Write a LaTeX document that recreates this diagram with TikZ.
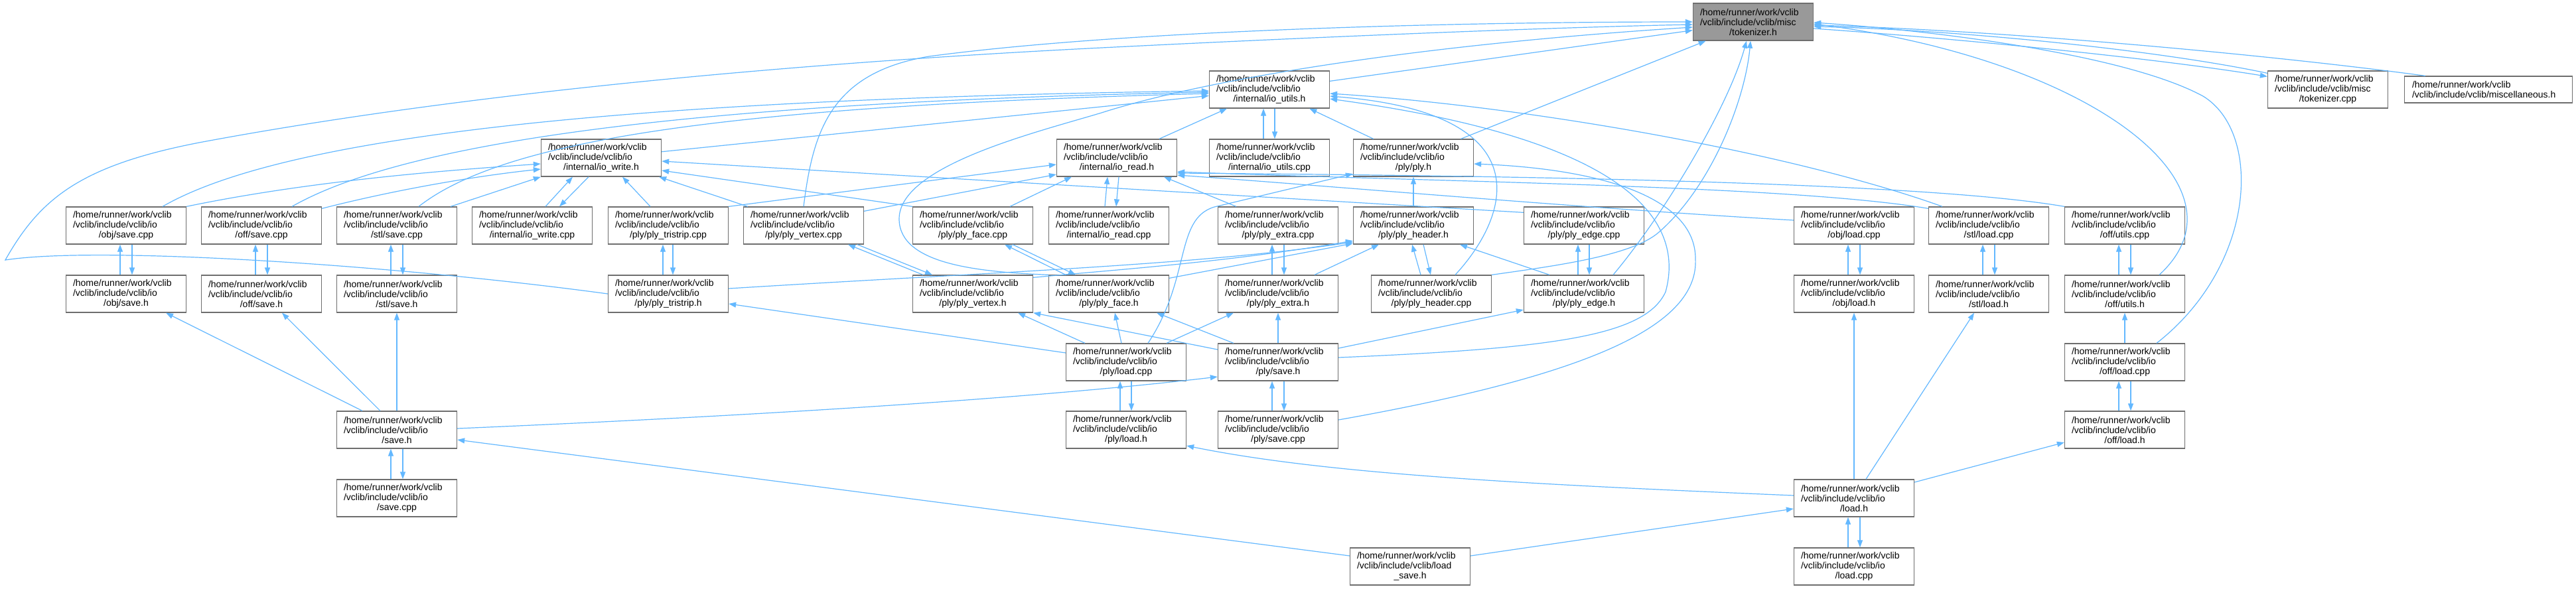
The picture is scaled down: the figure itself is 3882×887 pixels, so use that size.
\documentclass[tikz,border=0pt]{standalone}
\usepackage{fontspec}
\setmainfont{Liberation Sans}
\usetikzlibrary{arrows.meta}
\definecolor{edgeblue}{RGB}{99,184,255}
\definecolor{boxgray}{RGB}{110,110,110}
\definecolor{focusgray}{RGB}{153,153,153}
\newcommand{\incpath}[2]{\makebox[160pt][l]{/home/runner/work/vclib}\\\makebox[160pt][l]{#1}\\#2}

\begin{document}
\begin{tikzpicture}[x=1pt, y=-1pt]
  \tikzset{
    file/.style={draw=boxgray, line width=1.3pt, fill=white, minimum width=181pt, minimum height=56pt,
      inner sep=0pt, align=center, font=\fontsize{14}{15}\selectfont},
    inc/.style={draw=edgeblue, line width=1.2pt, -{Triangle[length=11pt,width=8pt]}}
  }
  \fill[white] (0,0) rectangle (3882,887);
  \useasboundingbox (0,0) rectangle (3882,887);

  % files
  \node[file, fill=focusgray] (tokh) at (2642,33) {\incpath{/vclib/include/vclib/misc}{/tokenizer.h}};
  \node[file] (ioutilsh)   at (1913,135) {\incpath{/vclib/include/vclib/io}{/internal/io\_utils.h}};
  \node[file] (tokcpp)     at (3508,135) {\incpath{/vclib/include/vclib/misc}{/tokenizer.cpp}};
  \node[file, minimum width=253pt, minimum height=40pt] (misch) at (3750,135)
    {\makebox[230pt][l]{/home/runner/work/vclib}\\\makebox[230pt][l]{/vclib/include/vclib/miscellaneous.h}};

  \node[file] (iowriteh)   at (906,238)  {\incpath{/vclib/include/vclib/io}{/internal/io\_write.h}};
  \node[file] (ioreadh)    at (1683,238) {\incpath{/vclib/include/vclib/io}{/internal/io\_read.h}};
  \node[file] (ioutilscpp) at (1913,238) {\incpath{/vclib/include/vclib/io}{/internal/io\_utils.cpp}};
  \node[file] (plyh)       at (2130,238) {\incpath{/vclib/include/vclib/io}{/ply/ply.h}};

  \node[file] (objsavecpp)  at (190,340)  {\incpath{/vclib/include/vclib/io}{/obj/save.cpp}};
  \node[file] (offsavecpp)  at (394,340)  {\incpath{/vclib/include/vclib/io}{/off/save.cpp}};
  \node[file] (stlsavecpp)  at (598,340)  {\incpath{/vclib/include/vclib/io}{/stl/save.cpp}};
  \node[file] (iowritecpp)  at (802,340)  {\incpath{/vclib/include/vclib/io}{/internal/io\_write.cpp}};
  \node[file] (tristripcpp) at (1007,340) {\incpath{/vclib/include/vclib/io}{/ply/ply\_tristrip.cpp}};
  \node[file] (vertexcpp)   at (1211,340) {\incpath{/vclib/include/vclib/io}{/ply/ply\_vertex.cpp}};
  \node[file] (facecpp)     at (1466,340) {\incpath{/vclib/include/vclib/io}{/ply/ply\_face.cpp}};
  \node[file] (ioreadcpp)   at (1671,340) {\incpath{/vclib/include/vclib/io}{/internal/io\_read.cpp}};
  \node[file] (extracpp)    at (1926,340) {\incpath{/vclib/include/vclib/io}{/ply/ply\_extra.cpp}};
  \node[file] (headerh)     at (2130,340) {\incpath{/vclib/include/vclib/io}{/ply/ply\_header.h}};
  \node[file] (edgecpp)     at (2387,340) {\incpath{/vclib/include/vclib/io}{/ply/ply\_edge.cpp}};
  \node[file] (objloadcpp)  at (2794,340) {\incpath{/vclib/include/vclib/io}{/obj/load.cpp}};
  \node[file] (stlloadcpp)  at (2997,340) {\incpath{/vclib/include/vclib/io}{/stl/load.cpp}};
  \node[file] (offutilscpp) at (3202,340) {\incpath{/vclib/include/vclib/io}{/off/utils.cpp}};

  \node[file] (objsaveh)  at (190,443)  {\incpath{/vclib/include/vclib/io}{/obj/save.h}};
  \node[file] (offsaveh)  at (394,443)  {\incpath{/vclib/include/vclib/io}{/off/save.h}};
  \node[file] (stlsaveh)  at (598,443)  {\incpath{/vclib/include/vclib/io}{/stl/save.h}};
  \node[file] (tristriph) at (1007,443) {\incpath{/vclib/include/vclib/io}{/ply/ply\_tristrip.h}};
  \node[file] (vertexh)   at (1466,443) {\incpath{/vclib/include/vclib/io}{/ply/ply\_vertex.h}};
  \node[file] (faceh)     at (1671,443) {\incpath{/vclib/include/vclib/io}{/ply/ply\_face.h}};
  \node[file] (extrah)    at (1926,443) {\incpath{/vclib/include/vclib/io}{/ply/ply\_extra.h}};
  \node[file] (headercpp) at (2157,443) {\incpath{/vclib/include/vclib/io}{/ply/ply\_header.cpp}};
  \node[file] (edgeh)     at (2387,443) {\incpath{/vclib/include/vclib/io}{/ply/ply\_edge.h}};
  \node[file] (objloadh)  at (2794,443) {\incpath{/vclib/include/vclib/io}{/obj/load.h}};
  \node[file] (stlloadh)  at (2997,443) {\incpath{/vclib/include/vclib/io}{/stl/load.h}};
  \node[file] (offutilsh) at (3202,443) {\incpath{/vclib/include/vclib/io}{/off/utils.h}};

  \node[file] (plyloadcpp) at (1697,546) {\incpath{/vclib/include/vclib/io}{/ply/load.cpp}};
  \node[file] (plysaveh)   at (1926,546) {\incpath{/vclib/include/vclib/io}{/ply/save.h}};
  \node[file] (offloadcpp) at (3202,546) {\incpath{/vclib/include/vclib/io}{/off/load.cpp}};

  \node[file] (saveh)      at (598,648)  {\incpath{/vclib/include/vclib/io}{/save.h}};
  \node[file] (plyloadh)   at (1697,648) {\incpath{/vclib/include/vclib/io}{/ply/load.h}};
  \node[file] (plysavecpp) at (1926,648) {\incpath{/vclib/include/vclib/io}{/ply/save.cpp}};
  \node[file] (offloadh)   at (3202,648) {\incpath{/vclib/include/vclib/io}{/off/load.h}};

  \node[file] (savecpp)   at (598,751)  {\incpath{/vclib/include/vclib/io}{/save.cpp}};
  \node[file] (loadh)     at (2794,751) {\incpath{/vclib/include/vclib/io}{/load.h}};
  \node[file] (loadsaveh) at (2125,854) {\incpath{/vclib/include/vclib/load}{\_save.h}};
  \node[file] (loadcpp)   at (2794,854) {\incpath{/vclib/include/vclib/io}{/load.cpp}};

  % includes of tokenizer.h
  \draw[inc] (ioutilsh) -- (tokh);
  \draw[inc] (plyh) -- (tokh);
  \draw[inc] ([xshift=32pt]misch.north west) .. controls (3400,80) and (3000,45) .. ([yshift=-5pt]tokh.east);
  \draw[inc] ([yshift=-4pt]tokcpp.north west) .. controls (3250,75) and (2950,45) .. ([yshift=-7pt]tokh.east);
  \draw[inc] ([yshift=-10pt]tokh.east) .. controls (2950,58) and (3250,88) .. ([yshift=-9pt]tokcpp.north west);
  \draw[inc] (tristriph.west) .. controls (600,400) and (150,370) .. (8,392) .. controls (60,300) and (120,250) .. (300,215)
    .. controls (700,140) and (1200,95) .. (1660,72) .. controls (2100,50) and (2400,40) .. ([yshift=-4pt]tokh.west);
  \draw[inc] (vertexcpp.north) .. controls (1225,200) and (1250,110) .. (1400,85) .. controls (1700,45) and (2200,33) .. (tokh.west);
  \draw[inc] (faceh.north west) .. controls (1480,410) and (1355,400) .. (1355,330) .. controls (1355,250) and (1560,200) .. (1660,170)
    .. controls (1800,125) and (2100,70) .. ([yshift=-8pt]tokh.west);
  \draw[inc] ([xshift=44pt]edgeh.north) .. controls (2510,320) and (2605,160) .. ([xshift=-10pt]tokh.south);
  \draw[inc] (headercpp.north east) .. controls (2350,400) and (2460,385) .. (2500,350) .. controls (2580,280) and (2630,150) .. ([xshift=-4pt]tokh.south);
  \draw[inc] ([xshift=52pt]offutilsh.north) .. controls (3400,280) and (3150,90) .. ([yshift=-3pt]tokh.east);
  \draw[inc] ([xshift=48pt]offloadcpp.north) .. controls (3400,400) and (3410,200) .. (3320,145) .. controls (3200,80) and (2900,45) .. ([yshift=-1pt]tokh.east);

  % includes of io_utils.h
  \draw[inc] ([xshift=55pt]objsavecpp.north) .. controls (420,210) and (900,150) .. ([yshift=-2pt]ioutilsh.west);
  \draw[inc] ([xshift=46pt]offsavecpp.north) .. controls (600,220) and (1000,155) .. ([yshift=-4pt]ioutilsh.west);
  \draw[inc] ([xshift=33pt]stlsavecpp.north) .. controls (760,210) and (1100,160) .. ([yshift=-6pt]ioutilsh.west);
  \draw[inc] (iowriteh) -- (ioutilsh);
  \draw[inc] (ioreadh) -- (ioutilsh);
  \draw[inc] (plyh) -- (ioutilsh);
  \draw[inc] ([xshift=-9pt]ioutilscpp.north) -- ([xshift=-9pt]ioutilsh.south);
  \draw[inc] ([xshift=8pt]ioutilsh.south) -- ([xshift=8pt]ioutilscpp.north);
  \draw[inc] ([xshift=36pt]headercpp.north) .. controls (2280,320) and (2320,170) .. ([yshift=-10pt]ioutilsh.east);
  \draw[inc] ([xshift=-70pt]stlloadcpp.north) .. controls (2700,230) and (2300,160) .. ([yshift=-6pt]ioutilsh.east);
  \draw[inc] ([yshift=7pt]plysaveh.east) .. controls (2350,525) and (2480,505) .. (2510,440) .. controls (2540,330) and (2450,210) .. ([yshift=-14pt]ioutilsh.east);
  \draw[inc] ([yshift=15pt]plysavecpp.east) .. controls (2400,565) and (2560,490) .. (2555,390) .. controls (2555,300) and (2420,255) .. ([yshift=-9pt]plyh.east);

  % includes of io_write.h
  \draw[inc] (objsavecpp.north east) .. controls (480,270) and (700,255) .. ([yshift=-9pt]iowriteh.west);
  \draw[inc] ([yshift=-3pt]offsavecpp.north east) .. controls (600,285) and (720,265) .. ([yshift=-17pt]iowriteh.west);
  \draw[inc] ([xshift=-10pt]stlsavecpp.north east) -- (iowriteh.south west);
  \draw[inc] ([xshift=20pt]iowritecpp.north) -- ([xshift=-43pt]iowriteh.south);
  \draw[inc] ([xshift=-19pt]iowriteh.south) -- ([xshift=41pt]iowritecpp.north);
  \draw[inc] ([xshift=-27pt]tristripcpp.north) -- ([xshift=32pt]iowriteh.south);
  \draw[inc] ([xshift=7pt]vertexcpp.north west) -- ([xshift=-4pt]iowriteh.south east);
  \draw[inc] (facecpp.north west) -- ([yshift=-19pt]iowriteh.east);
  \draw[inc] ([yshift=-9pt]edgecpp.north west) -- ([yshift=-5pt]iowriteh.east);

  % includes of io_read.h
  \draw[inc] (tristripcpp.north east) -- ([yshift=-10pt]ioreadh.west);
  \draw[inc] ([yshift=-7pt]vertexcpp.north east) -- ([yshift=-25pt]ioreadh.west);
  \draw[inc] ([xshift=56pt]facecpp.north) -- ([xshift=-68pt]ioreadh.south);
  \draw[inc] ([xshift=-6pt]ioreadcpp.north) -- ([xshift=-14pt]ioreadh.south);
  \draw[inc] ([xshift=3pt]ioreadh.south) -- ([xshift=11pt]ioreadcpp.north);
  \draw[inc] ([xshift=-63pt]extracpp.north) -- ([xshift=71pt]ioreadh.south);
  \draw[inc] ([yshift=8pt]objloadcpp.west) .. controls (2400,315) and (2000,280) .. ([yshift=-26pt]ioreadh.east);
  \draw[inc] ([yshift=-3pt]stlloadcpp.north west) .. controls (2700,280) and (2200,275) .. ([yshift=-21pt]ioreadh.east);
  \draw[inc] (offutilscpp.north west) .. controls (2900,275) and (2300,265) .. ([yshift=-23pt]ioreadh.east);

  % includes of ply.h and ply_header.h
  \draw[inc] (headerh) -- (plyh);
  \draw[inc] ([xshift=33pt]plyloadcpp.north) .. controls (1795,420) and (1770,330) .. (1830,312) -- ([yshift=-24pt]plyh.west);
  \draw[inc] ([yshift=8pt]tristriph.east) .. controls (1500,410) and (1800,400) .. ([yshift=-25pt]headerh.west);
  \draw[inc] ([yshift=-4pt]vertexh.north east) .. controls (1700,405) and (1850,395) .. ([yshift=-23pt]headerh.west);
  \draw[inc] ([yshift=-5pt]faceh.north east) -- ([yshift=-27pt]headerh.west);
  \draw[inc] ([xshift=55pt]extrah.north) -- ([xshift=-52pt]headerh.south);
  \draw[inc] ([xshift=-16pt]headercpp.north) -- ([xshift=-2pt]headerh.south);
  \draw[inc] ([xshift=15pt]headerh.south) -- ([xshift=-1pt]headercpp.north);
  \draw[inc] ([xshift=-52pt]edgeh.north) -- ([xshift=70pt]headerh.south);

  % header and source pairs
  \draw[inc] ([xshift=-9pt]objsaveh.north) -- ([xshift=-9pt]objsavecpp.south);
  \draw[inc] ([xshift=9pt]objsavecpp.south) -- ([xshift=9pt]objsaveh.north);
  \draw[inc] ([xshift=-9pt]offsaveh.north) -- ([xshift=-9pt]offsavecpp.south);
  \draw[inc] ([xshift=9pt]offsavecpp.south) -- ([xshift=9pt]offsaveh.north);
  \draw[inc] ([xshift=-9pt]stlsaveh.north) -- ([xshift=-9pt]stlsavecpp.south);
  \draw[inc] ([xshift=9pt]stlsavecpp.south) -- ([xshift=9pt]stlsaveh.north);
  \draw[inc] ([xshift=-8pt]tristriph.north) -- ([xshift=-8pt]tristripcpp.south);
  \draw[inc] ([xshift=7pt]tristripcpp.south) -- ([xshift=7pt]tristriph.north);
  \draw[inc] ([xshift=-75pt]vertexh.north) -- ([xshift=67pt]vertexcpp.south);
  \draw[inc] ([xshift=81pt]vertexcpp.south) -- ([xshift=-61pt]vertexh.north);
  \draw[inc] ([xshift=-65pt]faceh.north) -- ([xshift=48pt]facecpp.south);
  \draw[inc] ([xshift=60pt]facecpp.south) -- ([xshift=-50pt]faceh.north);
  \draw[inc] ([xshift=-9pt]extrah.north) -- ([xshift=-9pt]extracpp.south);
  \draw[inc] ([xshift=9pt]extracpp.south) -- ([xshift=9pt]extrah.north);
  \draw[inc] ([xshift=-9pt]edgeh.north) -- ([xshift=-9pt]edgecpp.south);
  \draw[inc] ([xshift=8pt]edgecpp.south) -- ([xshift=8pt]edgeh.north);
  \draw[inc] ([xshift=-9pt]objloadh.north) -- ([xshift=-9pt]objloadcpp.south);
  \draw[inc] ([xshift=9pt]objloadcpp.south) -- ([xshift=9pt]objloadh.north);
  \draw[inc] ([xshift=-9pt]stlloadh.north) -- ([xshift=-9pt]stlloadcpp.south);
  \draw[inc] ([xshift=9pt]stlloadcpp.south) -- ([xshift=9pt]stlloadh.north);
  \draw[inc] ([xshift=-9pt]offutilsh.north) -- ([xshift=-9pt]offutilscpp.south);
  \draw[inc] ([xshift=9pt]offutilscpp.south) -- ([xshift=9pt]offutilsh.north);
  \draw[inc] ([xshift=-9pt]plyloadh.north) -- ([xshift=-9pt]plyloadcpp.south);
  \draw[inc] ([xshift=8pt]plyloadcpp.south) -- ([xshift=8pt]plyloadh.north);
  \draw[inc] ([xshift=-9pt]plysavecpp.north) -- ([xshift=-9pt]plysaveh.south);
  \draw[inc] ([xshift=9pt]plysaveh.south) -- ([xshift=9pt]plysavecpp.north);
  \draw[inc] ([xshift=-9pt]offloadh.north) -- ([xshift=-9pt]offloadcpp.south);
  \draw[inc] ([xshift=9pt]offloadcpp.south) -- ([xshift=9pt]offloadh.north);
  \draw[inc] ([xshift=-9pt]savecpp.north) -- ([xshift=-9pt]saveh.south);
  \draw[inc] ([xshift=9pt]saveh.south) -- ([xshift=9pt]savecpp.north);
  \draw[inc] ([xshift=-9pt]loadcpp.north) -- ([xshift=-9pt]loadh.south);
  \draw[inc] ([xshift=9pt]loadh.south) -- ([xshift=9pt]loadcpp.north);

  % ply load and save
  \draw[inc] ([yshift=14pt]plyloadcpp.west) -- ([yshift=-15pt]tristriph.east);
  \draw[inc] ([xshift=-62pt]plyloadcpp.north) -- ([xshift=68pt]vertexh.south);
  \draw[inc] ([yshift=19pt]plysaveh.west) -- (vertexh.south east);
  \draw[inc] ([xshift=-7pt]plyloadcpp.north) -- ([xshift=9pt]faceh.south);
  \draw[inc] ([xshift=-67pt]plysaveh.north) -- ([xshift=72pt]faceh.south);
  \draw[inc] ([xshift=61pt]plyloadcpp.north) -- ([xshift=-67pt]extrah.south);
  \draw[inc] (plysaveh) -- (extrah);
  \draw[inc] ([yshift=21pt]plysaveh.east) -- ([yshift=-24pt]edgeh.west);
  \draw[inc] (offloadcpp) -- (offutilsh);

  % save.h and load.h
  \draw[inc] ([xshift=-52pt]saveh.north) -- ([xshift=60pt]objsaveh.south);
  \draw[inc] ([xshift=-25pt]saveh.north) -- ([xshift=31pt]offsaveh.south);
  \draw[inc] (saveh) -- (stlsaveh);
  \draw[inc] ([yshift=2pt]saveh.east) .. controls (1300,620) and (1650,590) .. ([yshift=-22pt]plysaveh.west);
  \draw[inc] ([yshift=16pt]loadsaveh.west) -- ([yshift=-15pt]saveh.east);
  \draw[inc] ([yshift=16pt]loadsaveh.east) -- ([yshift=-16pt]loadh.west);
  \draw[inc] (loadh) -- (objloadh);
  \draw[inc] ([xshift=18pt]loadh.north) -- ([xshift=-22pt]stlloadh.south);
  \draw[inc] ([yshift=24pt]loadh.east) -- ([yshift=-19pt]offloadh.west);
  \draw[inc] ([yshift=4pt]loadh.west) .. controls (2300,730) and (2000,715) .. ([yshift=-24pt]plyloadh.east);
\end{tikzpicture}
\end{document}
